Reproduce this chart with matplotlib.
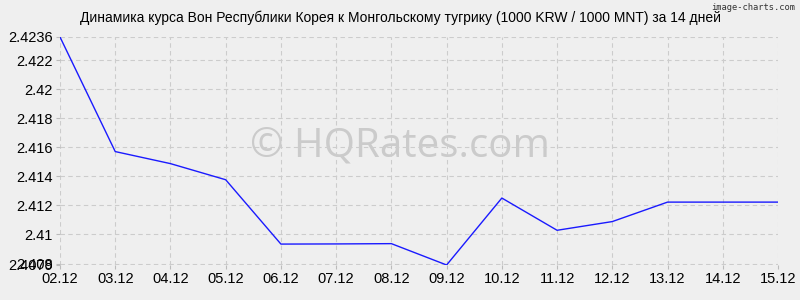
import matplotlib
matplotlib.use("Agg")
import matplotlib.pyplot as plt

dates = ["02.12", "03.12", "04.12", "05.12", "06.12", "07.12", "08.12",
         "09.12", "10.12", "11.12", "12.12", "13.12", "14.12", "15.12"]
rates = [2.4236, 2.41571, 2.41488, 2.41377, 2.40934, 2.40935, 2.40937,
         2.4079, 2.41251, 2.41029, 2.41089, 2.41223, 2.41223, 2.41223]
yticks = [2.4079, 2.408, 2.41, 2.412, 2.414, 2.416, 2.418, 2.42, 2.422, 2.4236]
ylabels = ["2.4079", "2.408", "2.41", "2.412", "2.414", "2.416", "2.418", "2.42", "2.422", "2.4236"]

plt.rcParams['font.family'] = ['Liberation Sans', 'DejaVu Sans']
bg = "#efefef"

fig = plt.figure(figsize=(8, 3), dpi=100, facecolor=bg)
ax = fig.add_axes([0.075, 0.1167, 0.8975, 0.76])
ax.set_facecolor(bg)

x = list(range(len(dates)))
ax.plot(x, rates, color="#1a1aff", lw=1, zorder=3)

ax.set_xlim(0, len(dates) - 1)
ax.set_ylim(min(rates), max(rates))
ax.set_xticks(x)
ax.set_xticklabels(dates, fontsize=10.5)
ax.set_yticks(yticks)
ax.set_yticklabels(ylabels, fontsize=10.5)
ax.tick_params(length=3, color="#bbbbbb", pad=2)
ax.grid(True, color="#cccccc", linestyle=(0, (4, 3)), lw=0.8)
for s in ax.spines.values():
    s.set_visible(False)

# водяной знак под сеткой
ax.text(0.5, 0.513, "© HQRates.com", transform=fig.transFigure, ha="center",
        va="center", fontsize=29, family="Open Sans", color="#cbcbcb", zorder=1)

fig.text(0.5, 0.94, "Динамика курса Вон Республики Корея к Монгольскому тугрику (1000 KRW / 1000 MNT) за 14 дней",
         ha="center", va="center", fontsize=10)
fig.text(0.994, 0.99, "image-charts.com", ha="right", va="top", fontsize=6.3,
         family="DejaVu Sans Mono", color="#333333")

fig.savefig("out.png", dpi=100, facecolor=bg)
